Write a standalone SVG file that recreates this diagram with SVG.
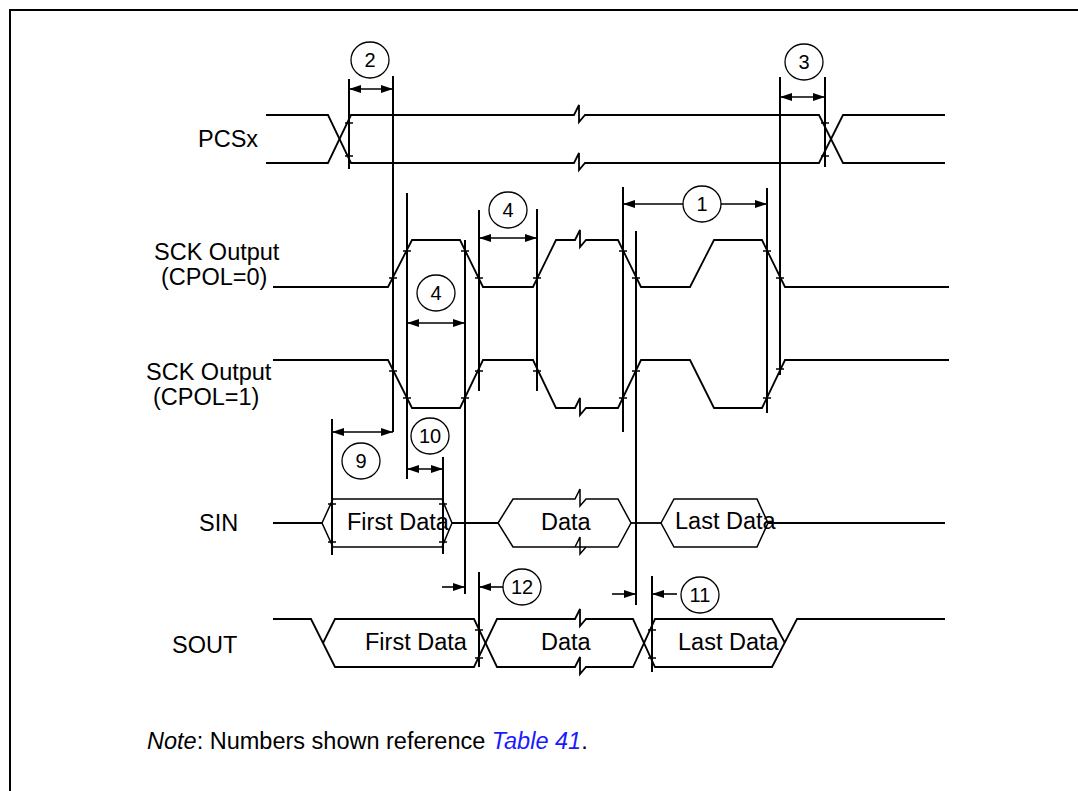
<svg xmlns="http://www.w3.org/2000/svg" width="1078" height="791" viewBox="0 0 1078 791">
<defs>
<marker id="ah" markerUnits="userSpaceOnUse" markerWidth="12" markerHeight="8" refX="12" refY="4" orient="auto-start-reverse">
<path d="M0,0 L12,4 L0,8 Z" fill="#000"/>
</marker>
<style>
.w{fill:none;stroke:#000;stroke-width:1.8;stroke-linejoin:miter}
.h{fill:none;stroke:#000;stroke-width:1.5}
.v{stroke:#000;stroke-width:2}
.t{stroke:#000;stroke-width:1.5}
.d{stroke:#000;stroke-width:1.6;marker-start:url(#ah);marker-end:url(#ah)}
.s{stroke:#000;stroke-width:1.6;marker-end:url(#ah)}
.c{fill:#fff;stroke:#000;stroke-width:1.3}
.lbl{font-family:"Liberation Sans",Arial,sans-serif;font-size:23.5px;fill:#000}
.num{font-family:"Liberation Sans",Arial,sans-serif;font-size:20px;fill:#000;text-anchor:middle}
</style>
</defs>
<rect x="10" y="10" width="1100" height="820" fill="none" stroke="#000" stroke-width="2"/>

<g id="sig-pcsx">
<text class="lbl" x="198" y="147">PCSx</text>
<path class="w" d="M266,115 L328,115 L351,163 L574,163 L579,153 L579,170 L585,163 L819,163 L843,115 L945,115"/>
<path class="w" d="M266,163 L328,163 L351,115 L574,115 L579,105 L579,122 L585,115 L819,115 L843,163 L945,163"/>
</g>

<g id="sig-sck0">
<text class="lbl" x="154" y="260">SCK Output</text>
<text class="lbl" x="161" y="285">(CPOL=0)</text>
<path class="w" d="M273,287 L388,287 L412,240 L460,240 L483,287 L533,287 L556,240 L575,240 L580,230 L580,247 L586,240 L618,240 L641,287 L690,287 L714,240 L762,240 L785,287 L949,287"/>
</g>

<g id="sig-sck1">
<text class="lbl" x="146" y="380">SCK Output</text>
<text class="lbl" x="153" y="405">(CPOL=1)</text>
<path class="w" d="M273,360 L388,360 L412,408 L460,408 L483,360 L533,360 L556,408 L575,408 L580,398 L580,415 L586,408 L618,408 L641,360 L690,360 L714,408 L762,408 L785,360 L949,360"/>
</g>

<g id="sig-sin">
<text class="lbl" x="199" y="531">SIN</text>
<path class="w" d="M273,523 L322,523"/>
<path class="h" d="M322,523 L333,499 L442,499 L452,523 L442,547 L333,547 Z"/>
<path class="w" d="M452,523 L498,523"/>
<path class="h" d="M618,547 L513,547 L498,523 L513,499 L575,499 L580,489 L580,506 L586,499 L618,499 L631,523 L618,547"/>
<path class="h" d="M575,547 L580,537 L580,554 L586,547"/>
<path class="w" d="M631,523 L661,523"/>
<path class="h" d="M661,523 L674,499 L757,499 L768,523 L757,547 L674,547 Z"/>
<path class="w" d="M768,523 L945,523"/>
<text class="lbl" x="347" y="530">First Data</text>
<text class="lbl" x="541" y="530">Data</text>
<text class="lbl" x="675" y="529">Last Data</text>
</g>

<g id="sig-sout">
<text class="lbl" x="172" y="653">SOUT</text>
<path class="w" d="M273,619 L311,619 L335,667 L474,667 L497,619 L575,619 L580,609 L580,626 L586,619 L633,619 L655,667 L772,667 L797,619 L945,619"/>
<path class="w" d="M323,643 L335,619 L474,619 L497,667 L575,667 L580,657 L580,674 L586,667 L633,667 L655,619 L772,619 L785,643"/>
<text class="lbl" x="365" y="650">First Data</text>
<text class="lbl" x="541" y="650">Data</text>
<text class="lbl" x="678" y="650">Last Data</text>
</g>

<g id="connectors">
<line class="v" x1="349" y1="79" x2="349" y2="169"/>
<line class="v" x1="393" y1="76" x2="393" y2="432"/>
<line class="v" x1="407" y1="193" x2="407" y2="479"/>
<line class="v" x1="465" y1="240" x2="465" y2="594"/>
<line class="v" x1="479" y1="210" x2="479" y2="391"/>
<line class="v" x1="537" y1="209" x2="537" y2="391"/>
<line class="v" x1="623" y1="187" x2="623" y2="432"/>
<line class="v" x1="636" y1="231" x2="636" y2="605"/>
<line class="v" x1="767" y1="188" x2="767" y2="413"/>
<line class="v" x1="780" y1="77" x2="780" y2="375"/>
<line class="v" x1="825" y1="77" x2="825" y2="167"/>
<line class="v" x1="332" y1="419" x2="332" y2="555"/>
<line class="v" x1="443" y1="457" x2="443" y2="554"/>
<line class="v" x1="479" y1="572" x2="479" y2="667"/>
<line class="v" x1="652" y1="576" x2="652" y2="672"/>

<path class="t" d="M345,123 h8 M345,156 h8 M821,123 h8 M821,156 h8
M389,278 h8 M475,278 h8 M533,278 h8 M632,278 h8 M776,278 h8
M403,251 h8 M461,251 h8 M619,251 h8 M763,251 h8
M389,371 h8 M475,371 h8 M533,371 h8 M632,371 h8 M776,369 h8
M403,398 h8 M461,398 h8 M619,398 h8 M763,398 h8
M328,504 h8 M328,542 h8 M439,504 h8 M439,542 h8
M475,630 h8 M475,658 h8 M648,630 h8 M648,658 h8"/>

<line class="d" x1="349" y1="89" x2="393" y2="89"/>
<line class="d" x1="780" y1="97" x2="825" y2="97"/>
<line class="d" x1="479" y1="238" x2="537" y2="238"/>
<line class="d" x1="623" y1="204" x2="767" y2="204"/>
<line class="d" x1="407" y1="323" x2="465" y2="323"/>
<line class="d" x1="332" y1="432" x2="393" y2="432"/>
<line class="d" x1="407" y1="469" x2="443" y2="469"/>
<line class="s" x1="442" y1="587" x2="465" y2="587"/>
<line class="s" x1="503" y1="587" x2="479" y2="587"/>
<line class="s" x1="612" y1="594" x2="636" y2="594"/>
<line class="s" x1="677" y1="594" x2="652" y2="594"/>
</g>

<g id="n2"><ellipse class="c" cx="370" cy="60" rx="19" ry="18"/><text class="num" x="370" y="67">2</text></g>
<g id="n3"><ellipse class="c" cx="804" cy="62" rx="19" ry="18"/><text class="num" x="804" y="69">3</text></g>
<g id="n4a"><ellipse class="c" cx="508" cy="210" rx="19" ry="18"/><text class="num" x="508" y="217">4</text></g>
<g id="n1"><ellipse class="c" cx="702" cy="204" rx="19" ry="18"/><text class="num" x="702" y="211">1</text></g>
<g id="n4b"><ellipse class="c" cx="436" cy="293" rx="19" ry="18"/><text class="num" x="436" y="300">4</text></g>
<g id="n10"><ellipse class="c" cx="430" cy="436" rx="19" ry="18"/><text class="num" x="430" y="443">10</text></g>
<g id="n9"><ellipse class="c" cx="361" cy="461" rx="19" ry="18"/><text class="num" x="361" y="468">9</text></g>
<g id="n12"><ellipse class="c" cx="522" cy="587" rx="19" ry="18"/><text class="num" x="522" y="594">12</text></g>
<g id="n11"><ellipse class="c" cx="700" cy="595" rx="19" ry="18"/><text class="num" x="700" y="602">11</text></g>

<g id="note">
<text class="lbl" x="147" y="749"><tspan font-style="italic">Note</tspan>: Numbers shown reference <tspan font-style="italic" fill="#1a1aff">Table 41</tspan>.</text>
</g>
</svg>
